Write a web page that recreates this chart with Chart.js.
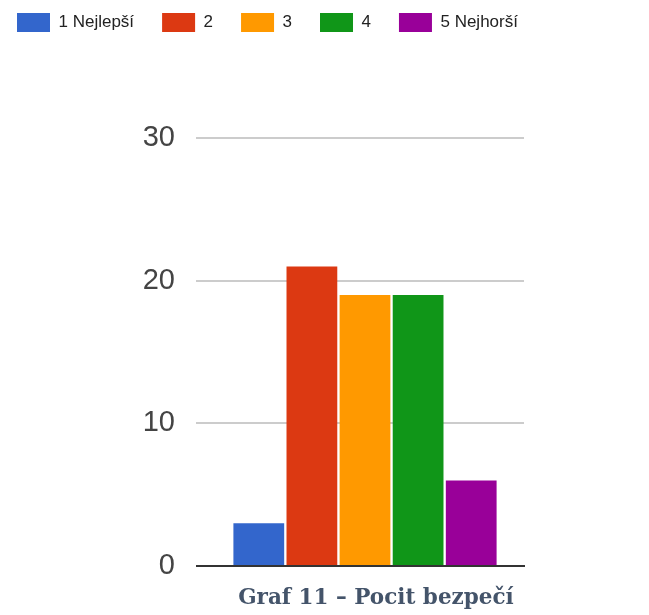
<!DOCTYPE html>
<html>
<head>
<meta charset="utf-8">
<script src="https://cdn.jsdelivr.net/npm/chart.js@4/dist/chart.umd.min.js"></script>
<style>
  html, body { margin: 0; padding: 0; background: #ffffff; }
  #wrap { position: relative; width: 649px; height: 615px; }
  #caption {
    position: absolute; left: 0; width: 752px; top: 584px;
    text-align: center; font-family: "DejaVu Serif", "Liberation Serif", serif;
    font-weight: bold; font-size: 21.5px; color: #44546a; white-space: nowrap;
  }
</style>
</head>
<body>
<div id="wrap">
  <canvas id="c" width="649" height="615"></canvas>
  <div id="caption">Graf 11 – Pocit bezpečí</div>
</div>
<script>
const categories = [""];
const seriesLabels = ["1 Nejlepší", "2", "3", "4", "5 Nejhorší"];
const seriesValues = [[3], [21], [19], [19], [6]];
const seriesColors = ["#3366cc", "#dc3912", "#ff9900", "#109618", "#990099"];
const yTicks = [0, 10, 20, 30];

const datasets = seriesLabels.map((lab, i) => ({
  label: lab,
  data: seriesValues[i],
  backgroundColor: seriesColors[i],
  borderWidth: 0,
  categoryPercentage: 0.835,
  barPercentage: 0.956
}));

new Chart(document.getElementById('c'), {
  type: 'bar',
  data: { labels: categories, datasets },
  options: {
    responsive: false,
    animation: false,
    layout: { padding: { left: -11, right: 0, top: -15, bottom: 49 } },
    plugins: {
      tooltip: { enabled: false },
      legend: {
        position: 'top',
        align: 'start',
        onClick: null,
        labels: {
          boxWidth: 33,
          boxHeight: 19,
          padding: 28,
          color: '#222222',
          font: { family: '"Liberation Sans", Arial, sans-serif', size: 17 }
        }
      }
    },
    scales: {
      x: {
        grid: { display: false, drawTicks: false },
        border: { display: true, color: '#333333', width: 2 },
        ticks: { display: false }
      },
      xTop: {
        position: 'top',
        type: 'category',
        labels: categories,
        grid: { display: false, drawTicks: false },
        border: { display: false },
        ticks: { display: false },
        afterFit: (axis) => { axis.height = 96; }
      },
      y: {
        min: 0, max: 30,
        afterBuildTicks: (axis) => { axis.ticks = yTicks.map(v => ({ value: v })); },
        afterFit: (axis) => { axis.width = 217; },
        grid: {
          color: (ctx) => ctx.tick && ctx.tick.value === 0 ? 'rgba(0,0,0,0)' : '#cccccc',
          tickColor: (ctx) => ctx.tick && ctx.tick.value === 0 ? '#333333' : '#cccccc',
          lineWidth: 2,
          drawTicks: true,
          tickLength: 10
        },
        border: { display: false },
        ticks: {
          padding: 21,
          color: '#444444',
          font: { family: '"Liberation Sans", Arial, sans-serif', size: 29 }
        }
      },
      yRight: {
        position: 'right',
        min: 0, max: 30,
        grid: { display: false, drawTicks: false },
        border: { display: false },
        ticks: { display: false },
        afterFit: (axis) => { axis.width = 125; }
      }
    }
  }
});
</script>
</body>
</html>
